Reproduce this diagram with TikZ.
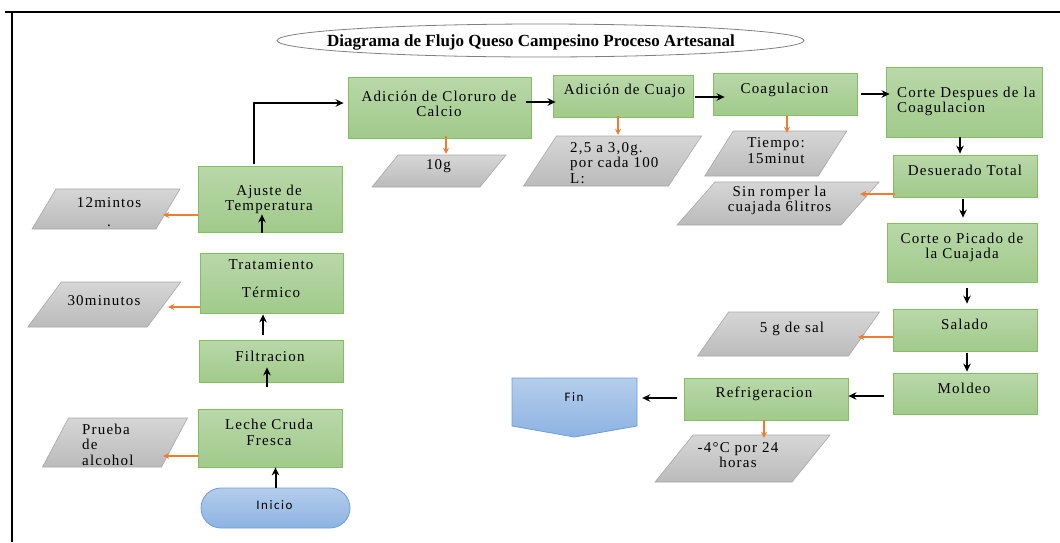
\documentclass[tikz,border=0pt]{standalone}
\usepackage{fontspec}
\setmainfont{Liberation Serif}
\newfontfamily\bxf[LetterSpace=8]{Liberation Serif}
\newfontfamily\sxf[LetterSpace=12]{Carlito}
\usetikzlibrary{arrows.meta,shapes.geometric}
\definecolor{gtop}{HTML}{B9D8A9}
\definecolor{gbot}{HTML}{A1CA8B}
\definecolor{gline}{HTML}{85BD63}
\definecolor{ptop}{HTML}{D6D6D6}
\definecolor{pbot}{HTML}{BBBBBB}
\definecolor{pline}{HTML}{A8A8A8}
\definecolor{btop}{HTML}{B4CDEC}
\definecolor{bbot}{HTML}{8DB3E2}
\definecolor{bline}{HTML}{6E9EDC}
\definecolor{orng}{HTML}{ED7D31}
\newcommand\tf{\bxf\fontsize{15}{15.5}\selectfont}
\newcommand\paral[6]{%
  \path[pgram] (#2-#4/2+#6/2,#3-#5/2) -- (#2+#4/2+#6/2,#3-#5/2) -- (#2+#4/2-#6/2,#3+#5/2) -- (#2-#4/2-#6/2,#3+#5/2) -- cycle;
  \node[minimum width=#4pt,minimum height=#5pt,inner sep=0] (#1) at (#2,#3) {};}
\begin{document}
\begin{tikzpicture}[x=1pt,y=-1pt,
  gbox/.style={draw=gline,line width=0.8pt,top color=gtop,bottom color=gbot,inner sep=0},
  pgram/.style={draw=pline,line width=0.6pt,top color=ptop,bottom color=pbot},
  bshape/.style={draw=bline,line width=0.8pt,top color=btop,bottom color=bbot},
  txt/.style={inner sep=0,font=\tf,align=center},
  ltxt/.style={inner sep=0,font=\tf,align=left,anchor=west},
  barrow/.style={draw=black,line width=2pt,-{Stealth[length=8pt,width=7.5pt]}},
  oarrow/.style={draw=orng,line width=1.6pt,-{Stealth[length=6pt,width=6pt]}}]
\useasboundingbox (0,0) rectangle (1060,542);
% frame
\draw[line width=2pt] (5,12) -- (1060,12);
\draw[line width=2pt] (12,12) -- (12,542);
% title
\node[draw=gray,line width=0.8pt,ellipse,minimum width=527pt,minimum height=33pt,inner sep=0] (title) at (540.5,40.5) {};
\node[inner sep=0,font=\fontsize{17}{19}\selectfont\bfseries] (title-t) at (531,42) {Diagrama de Flujo Queso Campesino Proceso Artesanal};
% green boxes
\node[gbox,minimum width=144pt,minimum height=66pt] (ajus) at (270,199) {};
\node[gbox,minimum width=143pt,minimum height=60pt] (trat) at (271.5,283) {};
\node[gbox,minimum width=144pt,minimum height=42pt] (filt) at (271,361) {};
\node[gbox,minimum width=144pt,minimum height=58pt] (leche) at (270,438) {};
\node[gbox,minimum width=183pt,minimum height=61pt] (clor) at (439.5,107.5) {};
\node[gbox,minimum width=140pt,minimum height=42pt] (cuajo) at (623,96) {};
\node[gbox,minimum width=144pt,minimum height=42pt] (coag) at (785,94) {};
\node[gbox,minimum width=156pt,minimum height=70pt] (corte) at (964,102) {};
\node[gbox,minimum width=144pt,minimum height=42pt] (desu) at (965,176) {};
\node[gbox,minimum width=150pt,minimum height=59pt] (pica) at (962,252.5) {};
\node[gbox,minimum width=144pt,minimum height=42pt] (sala) at (965,330) {};
\node[gbox,minimum width=144pt,minimum height=41pt] (mold) at (965,393.5) {};
\node[gbox,minimum width=164pt,minimum height=42pt] (refr) at (766,399) {};
% blue shapes
\node[bshape,rounded corners=20pt,minimum width=149pt,minimum height=40pt,inner sep=0] (ini) at (275.5,508) {};
\path[bshape] (512,378) -- (637,378) -- (637,426) -- (574.5,437) -- (512,426) -- cycle;
\node[minimum width=125pt,minimum height=48pt,inner sep=0] (fin) at (574.5,402) {};
% parallelograms
\paral{m12}{106}{209}{124}{40}{24}
\paral{m30}{104.25}{304.5}{119.5}{45}{33.5}
\paral{prueba}{115}{442.5}{119}{49}{26}
\paral{g10}{439}{171}{108}{32}{26}
\paral{dosis}{612.5}{161}{145}{50}{33}
\paral{tiempo}{775.75}{153.5}{113.5}{45}{28.5}
\paral{sin}{778}{203.5}{164}{43}{38}
\paral{sal}{788.5}{334}{151}{44}{31}
\paral{temp}{742.5}{458.5}{137}{47}{38}
% texts
\node[txt] (ajus-t) at (269,199.5) {Ajuste de\\Temperatura};
\node[txt] (trat-t) at (271,278.5) {Tratamiento\\[13pt]Térmico};
\node[txt] (filt-t) at (270,356) {Filtracion};
\node[txt] (leche-t) at (269,432.5) {Leche Cruda\\Fresca};
\node[txt] (clor-t) at (439,104) {Adición de Cloruro de\\Calcio};
\node[txt] (cuajo-t) at (624.5,91) {Adición de Cuajo};
\node[txt] (coag-t) at (784.5,90) {Coagulacion};
\node[ltxt] (corte-t) at (897,101.5) {Corte Despues de la\\Coagulacion};
\node[txt] (desu-t) at (965,170) {Desuerado Total};
\node[txt] (pica-t) at (962,247.5) {Corte o Picado de\\la Cuajada};
\node[txt] (sala-t) at (964.5,324) {Salado};
\node[txt] (mold-t) at (964,388) {Moldeo};
\node[txt] (refr-t) at (764,394) {Refrigeracion};
\node[inner sep=0,font=\sxf\fontsize{13}{14}\selectfont] (ini-t) at (274.5,505) {Inicio};
\node[inner sep=0,font=\sxf\fontsize{13}{14}\selectfont] (fin-t) at (574,397) {Fin};
\node[txt] (m12-t) at (109,212) {12mintos\\[3pt].};
\node[txt] (m30-t) at (104,301) {30minutos};
\node[ltxt] (prueba-t) at (82,444.5) {Prueba\\de\\alcohol};
\node[txt] (g10-t) at (438.5,166) {10g};
\node[ltxt] (dosis-t) at (570,163) {2,5 a 3,0g.\\por cada 100\\L:};
\node[txt] (tiempo-t) at (776,150.5) {Tiempo:\\15minut};
\node[txt] (sin-t) at (779.5,200.5) {Sin romper la\\cuajada 6litros};
\node[txt] (sal-t) at (792,329) {5 g de sal};
\node[txt] (temp-t) at (738,455) {-4°C por 24\\horas};
% black arrows
\draw[barrow] (ini.north) -- (ini.north |- leche.south);
\draw[barrow] ([xshift=-3pt,yshift=22pt]leche.north) -- ([xshift=-4pt,yshift=15pt]filt.south);
\draw[barrow] ([xshift=-8pt,yshift=5pt]filt.north) -- ([xshift=-8.5pt,yshift=-1pt]trat.south);
\draw[barrow] ([xshift=-9.5pt,yshift=20pt]trat.north) -- ([xshift=-8pt,yshift=18pt]ajus.south);
\coordinate (bend) at (254,103);
\draw[barrow,line join=miter] ([xshift=-16pt,yshift=2pt]ajus.north) -- (bend) -- ([xshift=-4pt]bend -| clor.west);
\draw[barrow] ([xshift=-5pt,yshift=5.5pt]clor.east) -- ([xshift=3pt,yshift=-6pt]cuajo.west);
\draw[barrow] ([xshift=2pt,yshift=-1pt]cuajo.east) -- ([xshift=12pt,yshift=-3pt]coag.west);
\draw[barrow] ([xshift=4pt]coag.east) -- ([xshift=4pt,yshift=8pt]corte.west);
\draw[barrow] ([xshift=-4pt]corte.south) -- ([xshift=-5pt,yshift=1pt]desu.north);
\draw[barrow] ([xshift=-2pt,yshift=-2pt]desu.south) -- ([xshift=1pt,yshift=5pt]pica.north);
\draw[barrow] ([xshift=5pt,yshift=-6pt]pica.south) -- ([xshift=2pt,yshift=5pt]sala.north);
\draw[barrow] ([xshift=2pt,yshift=-2pt]sala.south) -- ([xshift=2pt,yshift=1pt]mold.north);
\draw[barrow] ([xshift=-9pt,yshift=-2.5pt]mold.west) -- ([yshift=3pt]refr.east);
\draw[barrow] ([xshift=-7pt,yshift=1pt]refr.west) -- ([xshift=5pt,yshift=4pt]fin.east);
% orange arrows
\draw[oarrow] ([yshift=-16pt]ajus.west) -- ([xshift=-5pt,yshift=-6pt]m12.east);
\draw[oarrow] ([yshift=-24pt]trat.west) -- ([xshift=4pt,yshift=-2.5pt]m30.east);
\draw[oarrow] ([yshift=-18pt]leche.west) -- ([xshift=-11.5pt,yshift=-13.5pt]prueba.east);
\draw[oarrow] ([xshift=6.5pt,yshift=2pt]clor.south) -- ([xshift=7pt,yshift=1pt]g10.north);
\draw[oarrow] ([xshift=-5pt,yshift=1pt]cuajo.south) -- ([xshift=5.5pt,yshift=1pt]dosis.north);
\draw[oarrow] ([xshift=2pt,yshift=-1pt]coag.south) -- ([xshift=11.25pt,yshift=-2pt]tiempo.north);
\draw[oarrow] ([xshift=2pt,yshift=-18pt]desu.west) -- ([yshift=9.5pt]sin.east);
\draw[oarrow] ([yshift=-7pt]sala.west) -- ([xshift=-6pt,yshift=-3pt]sal.east);
\draw[oarrow] ([xshift=-2pt]refr.south) -- ([xshift=21.5pt,yshift=-3pt]temp.north);
\end{tikzpicture}
\end{document}
